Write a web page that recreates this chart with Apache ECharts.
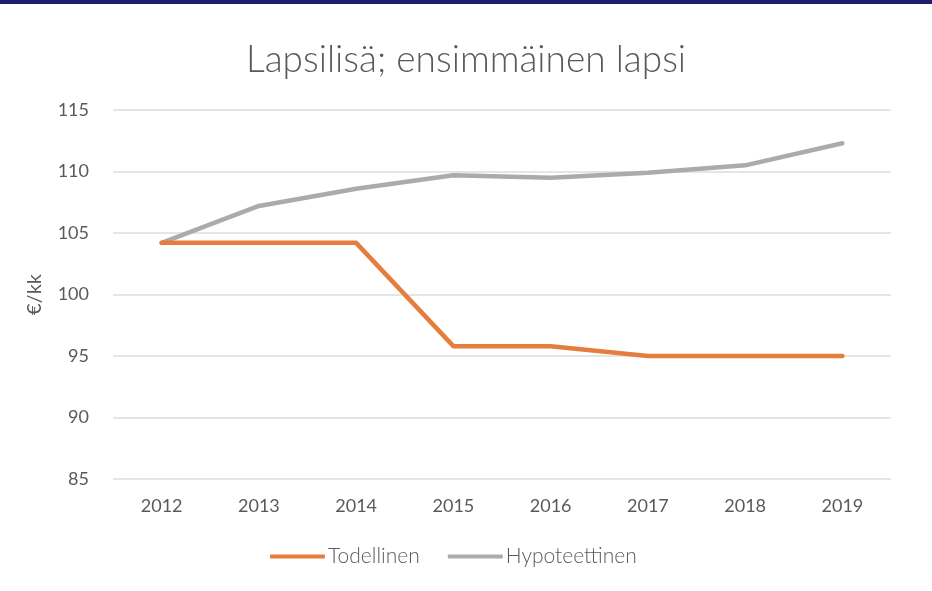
<!DOCTYPE html>
<html>
<head>
<meta charset="utf-8">
<script src="https://cdn.jsdelivr.net/npm/echarts@6/dist/echarts.min.js"></script>
<style>
  html, body { margin: 0; padding: 0; background: #fff; }
  #band { width: 932px; height: 4px; background: #1f1f6b; }
  #main { width: 932px; height: 587px; }
</style>
</head>
<body>
<div id="band"></div>
<div id="main"></div>
<script>
var years = ['2012', '2013', '2014', '2015', '2016', '2017', '2018', '2019'];
var todellinen = [104.2, 104.2, 104.2, 95.8, 95.8, 95.0, 95.0, 95.0];
var hypoteettinen = [104.2, 107.2, 108.6, 109.7, 109.5, 109.9, 110.5, 112.3];
var seriesNames = ['Todellinen', 'Hypoteettinen'];

var chart = echarts.init(document.getElementById('main'));
var txt = '#5a5a5a';
var font = 'Lato';

var option = {
    animation: false,
    title: {
        text: 'Lapsilisä; ensimmäinen lapsi',
        left: 'center',
        top: 33,
        textStyle: { color: txt, fontFamily: font, fontWeight: 300, fontSize: 37 }
    },
    legend: {
        data: seriesNames,
        bottom: 19,
        left: 265,
        icon: 'roundRect',
        itemWidth: 55,
        itemHeight: 4,
        itemGap: 28,
        textStyle: { color: txt, fontFamily: font, fontWeight: 300, fontSize: 21, padding: [0, 0, 0, -2] }
    },
    grid: { left: 113, right: 41, top: 106, bottom: 112 },
    xAxis: {
        type: 'category',
        data: years,
        boundaryGap: true,
        axisLine: { show: false },
        axisTick: { show: false },
        axisLabel: { color: txt, fontFamily: font, fontSize: 18, margin: 18 }
    },
    yAxis: {
        type: 'value',
        min: 85,
        max: 115,
        interval: 5,
        name: '€/kk',
        nameLocation: 'middle',
        nameGap: 68,
        nameTextStyle: { color: txt, fontFamily: font, fontSize: 20 },
        axisLine: { show: false },
        axisTick: { show: false },
        axisLabel: { color: txt, fontFamily: font, fontSize: 18, margin: 24 },
        splitLine: { lineStyle: { color: '#dcdcdc', width: 1.5 } }
    },
    series: [{
        name: seriesNames[1],
        type: 'line',
        data: hypoteettinen,
        showSymbol: false,
        color: '#ababab',
        lineStyle: { width: 4.5, cap: 'round', join: 'round' },
        z: 2
    }, {
        name: seriesNames[0],
        type: 'line',
        data: todellinen,
        showSymbol: false,
        color: '#e57e3c',
        lineStyle: { width: 4.5, cap: 'round', join: 'round' },
        z: 3
    }]
};
chart.setOption(option);
</script>
</body>
</html>
